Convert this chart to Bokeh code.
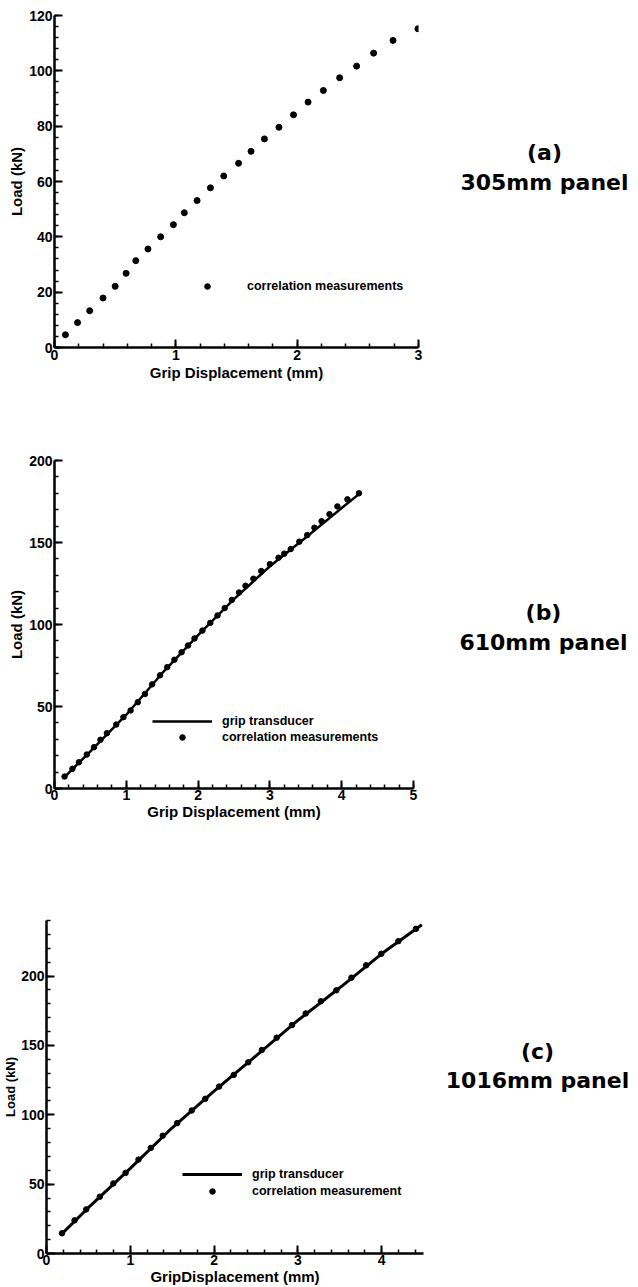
from bokeh.plotting import figure
from bokeh.models import Range1d, Legend, LegendItem, Label, SingleIntervalTicker
from bokeh.layouts import column, row
from bokeh.embed import file_html
from bokeh.resources import INLINE

# ---------------- data ----------------
# (a) 305mm panel
a_disp = [0.09, 0.19, 0.29, 0.40, 0.50, 0.59, 0.67, 0.77, 0.875, 0.98, 1.07, 1.175, 1.285,
          1.395, 1.517, 1.62, 1.73, 1.85, 1.97, 2.09, 2.216, 2.35, 2.49, 2.63, 2.79, 2.995]
a_load = [4.6, 9.0, 13.3, 17.9, 22.1, 26.8, 31.4, 35.6, 40.0, 44.4, 48.7, 53.1, 57.7,
          62.0, 66.6, 70.9, 75.4, 79.6, 84.1, 88.7, 92.9, 97.5, 101.7, 106.4, 111.0, 115.2]

# (b) 610mm panel
b_disp = [0.14, 0.25, 0.34, 0.45, 0.55, 0.64, 0.73, 0.86, 0.96, 1.06, 1.16, 1.26, 1.36, 1.47,
          1.57, 1.67, 1.77, 1.86, 1.95, 2.06, 2.17, 2.27, 2.37, 2.47, 2.57, 2.66, 2.77, 2.88,
          3.00, 3.12, 3.20, 3.29, 3.41, 3.52, 3.62, 3.72, 3.83, 3.94, 4.08, 4.24]
b_load = [7.3, 12.0, 16.0, 20.7, 25.2, 29.7, 33.7, 39.0, 43.5, 47.6, 52.6, 57.6, 63.5, 69.0,
          74.0, 78.5, 83.1, 87.2, 91.5, 96.3, 101.0, 105.5, 110.0, 115.0, 119.5, 123.6, 127.9, 132.6,
          136.8, 140.7, 143.2, 146.0, 150.5, 154.5, 159.0, 163.0, 167.3, 172.0, 176.3, 180.0]
b_grip_disp = [0.14, 0.5, 1.0, 1.5, 2.0, 2.5, 3.0, 3.5, 4.0, 4.24]
b_grip_load = [7.0, 22.7, 45.0, 70.3, 93.5, 115.5, 135.5, 153.0, 171.0, 179.5]

# (c) 1016mm panel
c_disp = [0.185, 0.335, 0.474, 0.636, 0.798, 0.944, 1.098, 1.245, 1.387, 1.56, 1.734, 1.896, 2.06,
          2.235, 2.408, 2.57, 2.747, 2.93, 3.094, 3.275, 3.46, 3.64, 3.815, 3.996, 4.2, 4.41]
c_load = [14.6, 23.9, 31.8, 40.9, 50.5, 58.1, 67.7, 76.1, 84.9, 94.0, 103.1, 111.5, 120.3,
          128.7, 137.8, 146.7, 155.5, 164.6, 173.0, 181.8, 189.7, 198.8, 207.7, 216.0, 225.1, 234.0]
c_grip_disp = [0.18, 0.5, 1.0, 1.5, 2.0, 2.5, 3.0, 3.5, 4.0, 4.48]
c_grip_load = [14.0, 33.0, 61.3, 90.6, 117.0, 142.5, 168.0, 191.5, 216.0, 237.0]

a_xmax, a_ymax = 3, 120
b_xmax, b_ymax = 5, 200
c_xmax, c_ymax = 4.5, 240

captions = [("(a)", "305mm panel"), ("(b)", "610mm panel"), ("(c)", "1016mm panel")]

FONT = "Liberation Sans"
CAP_FONT = "DejaVu Sans"
W = 638


def make_fig(w, h, xmax, ymax, yint, borders, xlabel, ylabel, ylabel_size="15px"):
    left, right, top, bottom = borders
    p = figure(width=w, height=h, x_range=Range1d(0, xmax), y_range=Range1d(0, ymax),
               output_backend="svg", toolbar_location=None,
               min_border_left=left, min_border_right=right,
               min_border_top=top, min_border_bottom=bottom)
    p.outline_line_color = None
    p.grid.visible = False
    p.background_fill_color = "white"
    p.border_fill_color = "white"
    p.xaxis.ticker = SingleIntervalTicker(interval=1, num_minor_ticks=5)
    p.yaxis.ticker = SingleIntervalTicker(interval=yint, num_minor_ticks=5)
    for ax in (p.xaxis[0], p.yaxis[0]):
        ax.axis_line_width = 2.5
        ax.axis_line_color = "black"
        ax.major_tick_in = 8
        ax.major_tick_out = 0
        ax.minor_tick_in = 4
        ax.minor_tick_out = 0
        ax.major_tick_line_width = 2
        ax.minor_tick_line_width = 1.5
        ax.major_tick_line_color = "black"
        ax.minor_tick_line_color = "black"
        ax.major_label_text_font = FONT
        ax.major_label_text_font_size = "14px"
        ax.major_label_text_font_style = "bold"
        ax.major_label_text_color = "black"
        ax.major_label_standoff = 2
        ax.axis_label_text_font = FONT
        ax.axis_label_text_font_size = "15px"
        ax.axis_label_text_font_style = "bold"
        ax.axis_label_text_color = "black"
        ax.axis_label_standoff = 1
    p.xaxis.axis_label = xlabel
    p.yaxis.axis_label = ylabel
    p.yaxis.axis_label_text_font_size = ylabel_size
    return p


def caption_fig(w, h, frame_h, cx, cy1, cy2, texts):
    # blank companion figure holding the panel caption; its frame is aligned with
    # the plot frame in the row, so the y range is given in frame pixels
    c = figure(width=w, height=h, x_range=Range1d(0, w), y_range=Range1d(0, frame_h),
               output_backend="svg", toolbar_location=None, x_axis_type=None, y_axis_type=None,
               min_border_left=0, min_border_right=0, min_border_top=0, min_border_bottom=0)
    c.outline_line_color = None
    c.grid.visible = False
    for y, t in zip((cy1, cy2), texts):
        c.add_layout(Label(x=cx, y=y, text=t, text_align="center", text_baseline="middle",
                           text_font=CAP_FONT, text_font_size="22px", text_font_style="bold",
                           text_color="black"))
    return c


def style_legend(items, loc, spacing):
    return Legend(items=items, location=loc, border_line_color=None,
                  background_fill_alpha=0, padding=0, margin=0, spacing=spacing,
                  glyph_width=60, glyph_height=14, label_height=14, label_standoff=10,
                  label_text_font=FONT, label_text_font_size="12.5px",
                  label_text_font_style="bold", label_text_color="black")


# ---------------- (a) ----------------
pa = make_fig(424, 400, a_xmax, a_ymax, 20, (54, 6, 15, 53),
              "Grip Displacement (mm)", "Load (kN)")
ra = pa.scatter(a_disp, a_load, size=6, color="black")
pa.add_layout(style_legend([LegendItem(label="correlation measurements", renderers=[ra])],
                           (123, 54), 2))
ca = caption_fig(W - 424, 400, 332, 120, 195, 165, captions[0])

# ---------------- (b) ----------------
pb = make_fig(419, 440, b_xmax, b_ymax, 50, (54, 6, 60, 52),
              "Grip Displacement (mm)", "Load (kN)")
pb.xaxis.major_label_standoff = 1
pb.xaxis.axis_label_standoff = 0
lb = pb.line(b_grip_disp, b_grip_load, line_width=2.5, color="black")
sb = pb.scatter(b_disp, b_load, size=5.5, color="black")
pb.add_layout(style_legend([LegendItem(label="grip transducer", renderers=[lb]),
                            LegendItem(label="correlation measurements", renderers=[sb])],
                           (98, 44), 2))
cb = caption_fig(W - 419, 440, 328, 124, 176, 146, captions[1])

# ---------------- (c) ----------------
pc = make_fig(425, 447, c_xmax, c_ymax, 50, (41, 2, 80, 33),
              "GripDisplacement (mm)", "Load (kN)", ylabel_size="13px")
pc.yaxis.axis_label_standoff = 0
pc.xaxis.major_label_standoff = 1
pc.xaxis.axis_label_standoff = 0
lc = pc.line(c_grip_disp, c_grip_load, line_width=3, color="black")
sc = pc.scatter(c_disp, c_load, size=5.5, color="black")
pc.add_layout(style_legend([LegendItem(label="grip transducer", renderers=[lc]),
                            LegendItem(label="correlation measurement", renderers=[sc])],
                           (136, 55), 3))
cc = caption_fig(W - 425, 447, 332, 112, 201, 172, captions[2])

layout = column(row(pa, ca, spacing=0), row(pb, cb, spacing=0), row(pc, cc, spacing=0),
                spacing=0)
open("out.html", "w").write(file_html(layout, INLINE))
